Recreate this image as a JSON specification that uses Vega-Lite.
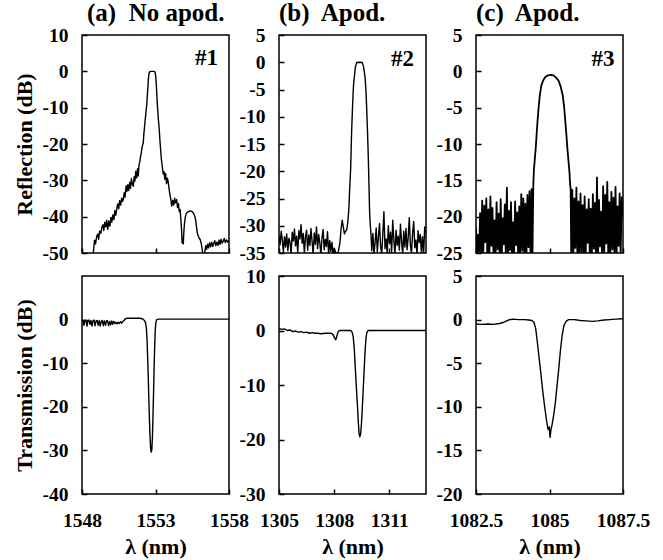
{
  "$schema": "https://vega.github.io/schema/vega-lite/v6.json",
  "padding": {"left": 12, "top": 0, "right": 5, "bottom": 0},
  "background": "white",
  "config": {
    "font": "Liberation Serif",
    "view": {"stroke": "black", "strokeWidth": 1.5},
    "axis": {
      "grid": false, "domain": false, "offset": -5,
      "tickColor": "black", "tickSize": 5, "tickWidth": 1.5,
      "labelFont": "Liberation Serif", "labelFontWeight": "bold", "labelFontSize": 19.5, "labelColor": "black",
      "labelOverlap": false, "labelFlush": false, "labelBound": false,
      "titleFont": "Liberation Serif", "titleFontWeight": "bold", "titleFontSize": 22, "titleColor": "black"
    },
    "axisY": {"labelPadding": 14, "titlePadding": 6},
    "axisX": {"labelPadding": 17, "titlePadding": 7},
    "title": {"font": "Liberation Serif", "fontWeight": "bold", "fontSize": 25, "anchor": "start", "frame": "group", "color": "black", "offset": -1}
  },
  "datasets": {
    "ra": [
      {"wl":1548.60,"db":-52},{"wl":1548.77,"db":-50},{"wl":1548.85,"db":-46.5},{"wl":1548.92,"db":-47.5},{"wl":1549.00,"db":-45.4},{"wl":1549.07,"db":-44.8},{"wl":1549.13,"db":-46.2},{"wl":1549.20,"db":-44.0},{"wl":1549.28,"db":-44.6},{"wl":1549.35,"db":-43.0},{"wl":1549.42,"db":-42.2},{"wl":1549.48,"db":-43.8},{"wl":1549.55,"db":-41.5},{"wl":1549.62,"db":-42.8},{"wl":1549.68,"db":-41.0},{"wl":1549.75,"db":-43.5},{"wl":1549.82,"db":-41.2},{"wl":1549.90,"db":-42.6},{"wl":1549.97,"db":-40.2},{"wl":1550.03,"db":-41.5},{"wl":1550.10,"db":-39.5},{"wl":1550.17,"db":-40.8},{"wl":1550.23,"db":-38.3},{"wl":1550.30,"db":-39.6},{"wl":1550.36,"db":-38.0},{"wl":1550.43,"db":-36.5},{"wl":1550.50,"db":-37.8},{"wl":1550.56,"db":-35.6},{"wl":1550.63,"db":-36.8},{"wl":1550.70,"db":-34.9},{"wl":1550.76,"db":-35.8},{"wl":1550.81,"db":-35.3},{"wl":1550.87,"db":-33.4},{"wl":1550.93,"db":-34.6},{"wl":1551.00,"db":-31.5},{"wl":1551.06,"db":-33.0},{"wl":1551.12,"db":-31.2},{"wl":1551.18,"db":-32.8},{"wl":1551.24,"db":-30.6},{"wl":1551.30,"db":-32.2},{"wl":1551.36,"db":-29.5},{"wl":1551.42,"db":-31.0},{"wl":1551.49,"db":-31.6},{"wl":1551.55,"db":-29.0},{"wl":1551.60,"db":-30.2},{"wl":1551.66,"db":-27.5},{"wl":1551.72,"db":-29.3},{"wl":1551.78,"db":-26.8},{"wl":1551.83,"db":-28.8},{"wl":1551.88,"db":-25.5},{"wl":1551.93,"db":-25.1},{"wl":1551.98,"db":-23.5},{"wl":1552.03,"db":-22.5},{"wl":1552.08,"db":-21.0},{"wl":1552.13,"db":-20.2},{"wl":1552.17,"db":-19.6},{"wl":1552.21,"db":-17.0},{"wl":1552.25,"db":-15.5},{"wl":1552.29,"db":-13.6},{"wl":1552.33,"db":-12.2},{"wl":1552.37,"db":-10.5},{"wl":1552.40,"db":-9.4},{"wl":1552.44,"db":-7.0},{"wl":1552.48,"db":-4.5},{"wl":1552.52,"db":-2.0},{"wl":1552.56,"db":-0.6},{"wl":1552.60,"db":-0.1},{"wl":1552.70,"db":0},{"wl":1552.80,"db":0},{"wl":1552.90,"db":0},{"wl":1552.97,"db":-0.2},{"wl":1553.02,"db":-1.5},{"wl":1553.06,"db":-4.0},{"wl":1553.10,"db":-7.2},{"wl":1553.13,"db":-9.5},{"wl":1553.16,"db":-11.0},{"wl":1553.20,"db":-13.5},{"wl":1553.24,"db":-15.2},{"wl":1553.27,"db":-17.0},{"wl":1553.31,"db":-19.5},{"wl":1553.35,"db":-21.5},{"wl":1553.39,"db":-23.8},{"wl":1553.43,"db":-25.1},{"wl":1553.48,"db":-26.9},{"wl":1553.53,"db":-28.3},{"wl":1553.58,"db":-27.6},{"wl":1553.63,"db":-29.7},{"wl":1553.69,"db":-28.1},{"wl":1553.75,"db":-30.9},{"wl":1553.81,"db":-29.4},{"wl":1553.87,"db":-30.6},{"wl":1553.93,"db":-32.5},{"wl":1553.98,"db":-34.0},{"wl":1554.04,"db":-35.2},{"wl":1554.10,"db":-37.1},{"wl":1554.17,"db":-35.5},{"wl":1554.24,"db":-36.8},{"wl":1554.30,"db":-34.9},{"wl":1554.37,"db":-36.2},{"wl":1554.44,"db":-35.3},{"wl":1554.50,"db":-37.5},{"wl":1554.56,"db":-36.4},{"wl":1554.62,"db":-38.6},{"wl":1554.67,"db":-38.0},{"wl":1554.72,"db":-40.5},{"wl":1554.77,"db":-43.5},{"wl":1554.81,"db":-47.2},{"wl":1554.85,"db":-46.0},{"wl":1554.89,"db":-47.5},{"wl":1554.93,"db":-44.0},{"wl":1554.97,"db":-42.0},{"wl":1555.02,"db":-40.3},{"wl":1555.08,"db":-39.3},{"wl":1555.15,"db":-38.8},{"wl":1555.25,"db":-38.6},{"wl":1555.35,"db":-38.4},{"wl":1555.46,"db":-38.5},{"wl":1555.55,"db":-38.9},{"wl":1555.63,"db":-39.4},{"wl":1555.70,"db":-40.2},{"wl":1555.75,"db":-41.5},{"wl":1555.80,"db":-43.2},{"wl":1555.86,"db":-44.8},{"wl":1555.92,"db":-45.4},{"wl":1555.98,"db":-46.0},{"wl":1556.04,"db":-46.3},{"wl":1556.10,"db":-47.2},{"wl":1556.16,"db":-48.5},{"wl":1556.22,"db":-50.5},{"wl":1556.30,"db":-51},{"wl":1556.36,"db":-49.5},{"wl":1556.42,"db":-48.0},{"wl":1556.48,"db":-49.0},{"wl":1556.55,"db":-47.6},{"wl":1556.61,"db":-48.6},{"wl":1556.68,"db":-47.2},{"wl":1556.75,"db":-48.3},{"wl":1556.82,"db":-47.0},{"wl":1556.89,"db":-48.2},{"wl":1556.96,"db":-47.4},{"wl":1557.03,"db":-46.6},{"wl":1557.10,"db":-48.0},{"wl":1557.17,"db":-47.0},{"wl":1557.25,"db":-47.9},{"wl":1557.32,"db":-46.5},{"wl":1557.39,"db":-47.6},{"wl":1557.46,"db":-46.2},{"wl":1557.53,"db":-47.3},{"wl":1557.60,"db":-46.8},{"wl":1557.68,"db":-46.0},{"wl":1557.75,"db":-47.1},{"wl":1557.83,"db":-46.4},{"wl":1557.91,"db":-47.0},{"wl":1558.00,"db":-46.5}
    ],
    "rb": [
      {"wl":1305.00,"db":-31.8},{"wl":1305.06,"db":-33.5},{"wl":1305.12,"db":-31.0},{"wl":1305.18,"db":-32.6},{"wl":1305.24,"db":-34.8},{"wl":1305.30,"db":-32.0},{"wl":1305.36,"db":-33.9},{"wl":1305.42,"db":-31.5},{"wl":1305.48,"db":-34.6},{"wl":1305.54,"db":-32.3},{"wl":1305.60,"db":-33.0},{"wl":1305.66,"db":-35.2},{"wl":1305.72,"db":-31.2},{"wl":1305.78,"db":-32.8},{"wl":1305.84,"db":-30.6},{"wl":1305.90,"db":-33.7},{"wl":1305.96,"db":-31.9},{"wl":1306.02,"db":-34.9},{"wl":1306.08,"db":-30.9},{"wl":1306.14,"db":-32.4},{"wl":1306.20,"db":-29.8},{"wl":1306.26,"db":-33.2},{"wl":1306.32,"db":-31.4},{"wl":1306.38,"db":-35.1},{"wl":1306.44,"db":-32.1},{"wl":1306.50,"db":-30.8},{"wl":1306.56,"db":-34.5},{"wl":1306.62,"db":-31.7},{"wl":1306.68,"db":-33.6},{"wl":1306.74,"db":-30.5},{"wl":1306.80,"db":-32.9},{"wl":1306.86,"db":-35.3},{"wl":1306.92,"db":-31.3},{"wl":1306.98,"db":-33.4},{"wl":1307.04,"db":-30.2},{"wl":1307.10,"db":-34.2},{"wl":1307.16,"db":-31.6},{"wl":1307.22,"db":-33.1},{"wl":1307.28,"db":-35.4},{"wl":1307.34,"db":-32.2},{"wl":1307.40,"db":-30.7},{"wl":1307.46,"db":-34.4},{"wl":1307.52,"db":-32.5},{"wl":1307.58,"db":-33.8},{"wl":1307.64,"db":-31.1},{"wl":1307.70,"db":-35.2},{"wl":1307.76,"db":-32.7},{"wl":1307.82,"db":-34.7},{"wl":1307.88,"db":-33.0},{"wl":1307.94,"db":-35.3},{"wl":1308.00,"db":-34.1},{"wl":1308.08,"db":-34.9},{"wl":1308.16,"db":-35.2},{"wl":1308.24,"db":-34.6},{"wl":1308.32,"db":-33.0},{"wl":1308.38,"db":-30.5},{"wl":1308.44,"db":-29.0},{"wl":1308.50,"db":-30.2},{"wl":1308.56,"db":-31.5},{"wl":1308.62,"db":-31.0},{"wl":1308.68,"db":-30.8},{"wl":1308.74,"db":-29.5},{"wl":1308.80,"db":-27.0},{"wl":1308.85,"db":-23.0},{"wl":1308.90,"db":-19.5},{"wl":1308.95,"db":-13.0},{"wl":1309.00,"db":-8.3},{"wl":1309.05,"db":-4.5},{"wl":1309.10,"db":-2.7},{"wl":1309.16,"db":-0.8},{"wl":1309.23,"db":-0.05},{"wl":1309.38,"db":0},{"wl":1309.53,"db":-0.05},{"wl":1309.60,"db":-0.8},{"wl":1309.68,"db":-2.7},{"wl":1309.73,"db":-5.0},{"wl":1309.77,"db":-8.3},{"wl":1309.82,"db":-13.0},{"wl":1309.86,"db":-17.5},{"wl":1309.90,"db":-23.0},{"wl":1309.93,"db":-27.3},{"wl":1309.96,"db":-29.5},{"wl":1310.00,"db":-31.2},
      {"wl":1310.05,"db":-34.6},{"wl":1310.11,"db":-31.4},{"wl":1310.17,"db":-35.2},{"wl":1310.23,"db":-33.0},{"wl":1310.29,"db":-30.4},{"wl":1310.35,"db":-34.8},{"wl":1310.41,"db":-32.1},{"wl":1310.47,"db":-29.6},{"wl":1310.53,"db":-33.8},{"wl":1310.59,"db":-35.3},{"wl":1310.65,"db":-31.5},{"wl":1310.71,"db":-27.4},{"wl":1310.77,"db":-34.2},{"wl":1310.83,"db":-32.4},{"wl":1310.89,"db":-35.1},{"wl":1310.95,"db":-30.0},{"wl":1311.01,"db":-33.3},{"wl":1311.07,"db":-31.2},{"wl":1311.13,"db":-34.9},{"wl":1311.19,"db":-29.0},{"wl":1311.25,"db":-32.7},{"wl":1311.31,"db":-35.2},{"wl":1311.37,"db":-30.8},{"wl":1311.43,"db":-33.6},{"wl":1311.49,"db":-31.9},{"wl":1311.55,"db":-34.5},{"wl":1311.61,"db":-29.7},{"wl":1311.67,"db":-32.8},{"wl":1311.73,"db":-35.3},{"wl":1311.79,"db":-31.0},{"wl":1311.85,"db":-33.9},{"wl":1311.91,"db":-30.5},{"wl":1311.97,"db":-34.4},{"wl":1312.03,"db":-32.2},{"wl":1312.09,"db":-28.5},{"wl":1312.15,"db":-33.5},{"wl":1312.21,"db":-35.1},{"wl":1312.27,"db":-31.4},{"wl":1312.33,"db":-29.2},{"wl":1312.39,"db":-34.0},{"wl":1312.45,"db":-32.6},{"wl":1312.51,"db":-35.2},{"wl":1312.57,"db":-30.9},{"wl":1312.63,"db":-33.1},{"wl":1312.69,"db":-31.6},{"wl":1312.75,"db":-34.8},{"wl":1312.81,"db":-32.0},{"wl":1312.87,"db":-35.3},{"wl":1312.93,"db":-30.2},{"wl":1313.00,"db":-31.5}
    ],
    "rc": [
      {"wl":1082.500,"db":-21.5},{"wl":1082.535,"db":-25.5},{"wl":1082.570,"db":-22.5},{"wl":1082.605,"db":-24.8},{"wl":1082.640,"db":-19.5},{"wl":1082.675,"db":-25.5},{"wl":1082.710,"db":-17.8},{"wl":1082.745,"db":-25.5},{"wl":1082.780,"db":-18.5},{"wl":1082.815,"db":-23.5},{"wl":1082.850,"db":-17.5},{"wl":1082.885,"db":-25.5},{"wl":1082.920,"db":-19.0},{"wl":1082.955,"db":-25.5},{"wl":1082.990,"db":-17.2},{"wl":1083.025,"db":-24.0},{"wl":1083.060,"db":-18.8},{"wl":1083.095,"db":-25.5},{"wl":1083.130,"db":-20.5},{"wl":1083.165,"db":-25.5},{"wl":1083.200,"db":-18.0},{"wl":1083.235,"db":-24.5},{"wl":1083.270,"db":-19.6},{"wl":1083.305,"db":-25.5},{"wl":1083.340,"db":-17.6},{"wl":1083.375,"db":-25.5},{"wl":1083.410,"db":-20.2},{"wl":1083.445,"db":-23.8},{"wl":1083.480,"db":-18.3},{"wl":1083.515,"db":-25.5},{"wl":1083.550,"db":-16.0},{"wl":1083.585,"db":-25.5},{"wl":1083.620,"db":-19.2},{"wl":1083.655,"db":-24.6},{"wl":1083.690,"db":-18.0},{"wl":1083.725,"db":-25.5},{"wl":1083.760,"db":-20.8},{"wl":1083.795,"db":-25.5},{"wl":1083.830,"db":-17.9},{"wl":1083.865,"db":-23.9},{"wl":1083.900,"db":-19.4},{"wl":1083.935,"db":-25.5},{"wl":1083.970,"db":-18.6},{"wl":1084.005,"db":-25.5},{"wl":1084.040,"db":-16.9},{"wl":1084.075,"db":-24.7},{"wl":1084.110,"db":-17.5},{"wl":1084.145,"db":-25.5},{"wl":1084.180,"db":-18.2},{"wl":1084.215,"db":-25.5},{"wl":1084.250,"db":-17.0},{"wl":1084.285,"db":-24.2},{"wl":1084.320,"db":-16.5},{"wl":1084.355,"db":-25.5},{"wl":1084.390,"db":-16.2},{"wl":1084.420,"db":-25.5},
      {"wl":1084.450,"db":-15.5},{"wl":1084.470,"db":-13.5},{"wl":1084.490,"db":-12.6},{"wl":1084.510,"db":-11.5},{"wl":1084.530,"db":-10.7},{"wl":1084.560,"db":-8.8},{"wl":1084.590,"db":-7.0},{"wl":1084.630,"db":-5.0},{"wl":1084.670,"db":-3.3},{"wl":1084.720,"db":-2.0},{"wl":1084.780,"db":-1.3},{"wl":1084.850,"db":-0.8},{"wl":1084.950,"db":-0.55},{"wl":1085.050,"db":-0.5},{"wl":1085.150,"db":-0.6},{"wl":1085.230,"db":-0.9},{"wl":1085.310,"db":-1.3},{"wl":1085.380,"db":-2.1},{"wl":1085.450,"db":-3.3},{"wl":1085.500,"db":-5.0},{"wl":1085.540,"db":-7.0},{"wl":1085.580,"db":-9.0},{"wl":1085.610,"db":-10.7},{"wl":1085.645,"db":-12.3},{"wl":1085.680,"db":-13.9},{"wl":1085.700,"db":-15.5},{"wl":1085.720,"db":-16.2},
      {"wl":1085.740,"db":-25.5},{"wl":1085.775,"db":-16.3},{"wl":1085.810,"db":-25.5},{"wl":1085.845,"db":-17.5},{"wl":1085.880,"db":-24.3},{"wl":1085.915,"db":-16.0},{"wl":1085.950,"db":-25.5},{"wl":1085.985,"db":-17.9},{"wl":1086.020,"db":-25.5},{"wl":1086.055,"db":-16.8},{"wl":1086.090,"db":-24.8},{"wl":1086.125,"db":-18.4},{"wl":1086.160,"db":-25.5},{"wl":1086.195,"db":-17.2},{"wl":1086.230,"db":-25.5},{"wl":1086.265,"db":-19.0},{"wl":1086.300,"db":-23.6},{"wl":1086.335,"db":-17.6},{"wl":1086.370,"db":-25.5},{"wl":1086.405,"db":-18.9},{"wl":1086.440,"db":-25.5},{"wl":1086.475,"db":-16.9},{"wl":1086.510,"db":-24.4},{"wl":1086.545,"db":-18.1},{"wl":1086.580,"db":-25.5},{"wl":1086.615,"db":-14.6},{"wl":1086.650,"db":-25.5},{"wl":1086.685,"db":-17.7},{"wl":1086.720,"db":-24.1},{"wl":1086.755,"db":-19.3},{"wl":1086.790,"db":-25.5},{"wl":1086.825,"db":-15.8},{"wl":1086.860,"db":-25.5},{"wl":1086.895,"db":-17.0},{"wl":1086.930,"db":-23.7},{"wl":1086.965,"db":-15.2},{"wl":1087.000,"db":-25.5},{"wl":1087.035,"db":-18.0},{"wl":1087.070,"db":-25.5},{"wl":1087.105,"db":-16.6},{"wl":1087.140,"db":-24.5},{"wl":1087.175,"db":-17.4},{"wl":1087.210,"db":-25.5},{"wl":1087.245,"db":-15.9},{"wl":1087.280,"db":-25.5},{"wl":1087.315,"db":-18.6},{"wl":1087.350,"db":-24.0},{"wl":1087.385,"db":-16.8},{"wl":1087.420,"db":-25.5},{"wl":1087.455,"db":-17.3},{"wl":1087.500,"db":-20.0}
    ],
    "ta": [
      {"wl":1548.00,"db":0.0},{"wl":1548.07,"db":-0.2},{"wl":1548.13,"db":-1.3},{"wl":1548.20,"db":-0.1},{"wl":1548.27,"db":-0.3},{"wl":1548.34,"db":-1.5},{"wl":1548.40,"db":-0.2},{"wl":1548.47,"db":-0.1},{"wl":1548.54,"db":-1.1},{"wl":1548.61,"db":-0.2},{"wl":1548.68,"db":-1.5},{"wl":1548.75,"db":-0.3},{"wl":1548.82,"db":-0.1},{"wl":1548.89,"db":-1.4},{"wl":1548.96,"db":-0.3},{"wl":1549.03,"db":-0.2},{"wl":1549.10,"db":-1.3},{"wl":1549.17,"db":-0.2},{"wl":1549.24,"db":-1.5},{"wl":1549.31,"db":-0.4},{"wl":1549.38,"db":-0.2},{"wl":1549.45,"db":-1.4},{"wl":1549.52,"db":-0.3},{"wl":1549.60,"db":-1.3},{"wl":1549.67,"db":-0.2},{"wl":1549.74,"db":-0.3},{"wl":1549.81,"db":-1.4},{"wl":1549.88,"db":-0.4},{"wl":1549.95,"db":-1.2},{"wl":1550.02,"db":-0.3},{"wl":1550.09,"db":-1.1},{"wl":1550.16,"db":-0.4},{"wl":1550.23,"db":-0.9},{"wl":1550.30,"db":-0.6},{"wl":1550.38,"db":-1.0},{"wl":1550.46,"db":-0.6},{"wl":1550.54,"db":-0.9},{"wl":1550.62,"db":-0.5},{"wl":1550.70,"db":-0.8},{"wl":1550.78,"db":-0.4},{"wl":1550.86,"db":-0.2},{"wl":1550.95,"db":0.2},{"wl":1551.10,"db":0.3},{"wl":1551.30,"db":0.3},{"wl":1551.60,"db":0.3},{"wl":1551.90,"db":0.3},{"wl":1552.10,"db":0.2},{"wl":1552.25,"db":-0.2},{"wl":1552.33,"db":-0.8},{"wl":1552.38,"db":-2.0},{"wl":1552.43,"db":-5.0},{"wl":1552.47,"db":-9.0},{"wl":1552.51,"db":-13.5},{"wl":1552.55,"db":-18.5},{"wl":1552.59,"db":-23.0},{"wl":1552.63,"db":-27.0},{"wl":1552.67,"db":-29.5},{"wl":1552.71,"db":-30.4},{"wl":1552.75,"db":-29.8},{"wl":1552.79,"db":-27.0},{"wl":1552.83,"db":-22.0},{"wl":1552.87,"db":-16.5},{"wl":1552.91,"db":-10.5},{"wl":1552.95,"db":-5.5},{"wl":1552.99,"db":-2.0},{"wl":1553.03,"db":-0.6},{"wl":1553.08,"db":0.0},{"wl":1553.20,"db":0.1},{"wl":1554.00,"db":0.1},{"wl":1556.00,"db":0.1},{"wl":1558.00,"db":0.1}
    ],
    "tb": [
      {"wl":1305.00,"db":0.4},{"wl":1305.15,"db":0.2},{"wl":1305.30,"db":0.3},{"wl":1305.45,"db":0.0},{"wl":1305.60,"db":0.1},{"wl":1305.75,"db":-0.2},{"wl":1305.90,"db":-0.1},{"wl":1306.05,"db":-0.3},{"wl":1306.20,"db":-0.2},{"wl":1306.35,"db":-0.4},{"wl":1306.50,"db":-0.3},{"wl":1306.65,"db":-0.5},{"wl":1306.80,"db":-0.4},{"wl":1306.95,"db":-0.5},{"wl":1307.10,"db":-0.5},{"wl":1307.30,"db":-0.6},{"wl":1307.50,"db":-0.5},{"wl":1307.70,"db":-0.5},{"wl":1307.85,"db":-0.5},{"wl":1307.95,"db":-0.8},{"wl":1308.03,"db":-1.4},{"wl":1308.09,"db":-1.7},{"wl":1308.15,"db":-1.0},{"wl":1308.22,"db":-0.2},{"wl":1308.30,"db":0.0},{"wl":1308.60,"db":0.0},{"wl":1308.90,"db":0.0},{"wl":1308.98,"db":-0.3},{"wl":1309.04,"db":-1.2},{"wl":1309.10,"db":-3.5},{"wl":1309.16,"db":-7.4},{"wl":1309.22,"db":-11.0},{"wl":1309.27,"db":-13.8},{"wl":1309.32,"db":-17.0},{"wl":1309.36,"db":-19.0},{"wl":1309.40,"db":-19.5},{"wl":1309.44,"db":-19.0},{"wl":1309.48,"db":-17.5},{"wl":1309.53,"db":-14.5},{"wl":1309.58,"db":-11.0},{"wl":1309.63,"db":-7.5},{"wl":1309.68,"db":-4.0},{"wl":1309.73,"db":-1.5},{"wl":1309.78,"db":-0.4},{"wl":1309.85,"db":0.0},{"wl":1310.50,"db":0.0},{"wl":1311.50,"db":0.0},{"wl":1313.00,"db":0.0}
    ],
    "tc": [
      {"wl":1082.50,"db":-0.5},{"wl":1082.70,"db":-0.55},{"wl":1082.90,"db":-0.5},{"wl":1083.10,"db":-0.55},{"wl":1083.30,"db":-0.45},{"wl":1083.45,"db":-0.3},{"wl":1083.60,"db":-0.05},{"wl":1083.75,"db":0.05},{"wl":1083.95,"db":0.0},{"wl":1084.15,"db":0.0},{"wl":1084.30,"db":-0.05},{"wl":1084.40,"db":-0.1},{"wl":1084.47,"db":-0.3},{"wl":1084.53,"db":-1.0},{"wl":1084.58,"db":-2.4},{"wl":1084.64,"db":-4.2},{"wl":1084.70,"db":-6.0},{"wl":1084.77,"db":-8.2},{"wl":1084.84,"db":-10.1},{"wl":1084.90,"db":-11.6},{"wl":1084.95,"db":-12.6},{"wl":1084.99,"db":-12.3},{"wl":1085.02,"db":-13.5},{"wl":1085.05,"db":-12.6},{"wl":1085.09,"db":-12.0},{"wl":1085.14,"db":-11.0},{"wl":1085.19,"db":-9.8},{"wl":1085.25,"db":-7.8},{"wl":1085.31,"db":-5.8},{"wl":1085.37,"db":-3.6},{"wl":1085.43,"db":-1.8},{"wl":1085.49,"db":-0.7},{"wl":1085.56,"db":-0.2},{"wl":1085.65,"db":0.0},{"wl":1085.85,"db":0.0},{"wl":1086.05,"db":-0.1},{"wl":1086.25,"db":-0.15},{"wl":1086.45,"db":-0.2},{"wl":1086.65,"db":-0.15},{"wl":1086.85,"db":-0.05},{"wl":1087.05,"db":0.0},{"wl":1087.25,"db":0.05},{"wl":1087.50,"db":0.1}
    ]
  },
  "columns": 3,
  "spacing": {"row": 23, "column": 50},
  "bounds": "flush",
  "concat": [
    {
      "width": 147, "height": 218,
      "title": {"text": "(a)\u00a0 No apod.", "dx": 5},
      "resolve": {"scale": {"x": "independent", "y": "independent"}},
      "layer": [
        {"data": {"name": "ra"}, "mark": {"type": "line", "clip": true, "color": "black", "strokeWidth": 1.4, "strokeJoin": "round"},
         "encoding": {
           "x": {"field": "wl", "type": "quantitative", "scale": {"domain": [1548, 1558], "nice": false, "zero": false}, "axis": {"values": [1548, 1553, 1558], "labels": false, "title": null}},
           "y": {"field": "db", "type": "quantitative", "scale": {"domain": [-50, 10], "nice": false, "zero": false}, "axis": {"values": [10, 0, -10, -20, -30, -40, -50], "labelOverlap": false, "labelExpr": "'' + datum.value", "title": "Reflection (dB)"}}
         }},
        {"data": {"values": [{"t": "#1"}]}, "mark": {"type": "text", "align": "right", "baseline": "alphabetic", "font": "Liberation Serif", "fontWeight": "bold", "fontSize": 23, "color": "black"},
         "encoding": {"text": {"field": "t"},
           "x": {"datum": 1557.25, "type": "quantitative", "scale": {"domain": [1548, 1558], "nice": false, "zero": false}, "axis": null},
           "y": {"datum": 1.7, "type": "quantitative", "scale": {"domain": [-50, 10], "nice": false, "zero": false}, "axis": null}}}
      ]
    },
    {
      "width": 147, "height": 218,
      "title": {"text": "(b)\u00a0 Apod."},
      "resolve": {"scale": {"x": "independent", "y": "independent"}},
      "layer": [
        {"data": {"name": "rb"}, "mark": {"type": "line", "clip": true, "color": "black", "strokeWidth": 1.4, "strokeJoin": "round"},
         "encoding": {
           "x": {"field": "wl", "type": "quantitative", "scale": {"domain": [1305, 1313], "nice": false, "zero": false}, "axis": {"values": [1305, 1308, 1311], "labels": false, "title": null}},
           "y": {"field": "db", "type": "quantitative", "scale": {"domain": [-35, 5], "nice": false, "zero": false}, "axis": {"values": [5, 0, -5, -10, -15, -20, -25, -30, -35], "labelOverlap": false, "labelExpr": "'' + datum.value", "title": null}}
         }},
        {"data": {"values": [{"t": "#2"}]}, "mark": {"type": "text", "align": "right", "baseline": "alphabetic", "font": "Liberation Serif", "fontWeight": "bold", "fontSize": 23, "color": "black"},
         "encoding": {"text": {"field": "t"},
           "x": {"datum": 1312.35, "type": "quantitative", "scale": {"domain": [1305, 1313], "nice": false, "zero": false}, "axis": null},
           "y": {"datum": -0.7, "type": "quantitative", "scale": {"domain": [-35, 5], "nice": false, "zero": false}, "axis": null}}}
      ]
    },
    {
      "width": 147, "height": 218,
      "title": {"text": "(c)\u00a0 Apod."},
      "resolve": {"scale": {"x": "independent", "y": "independent"}},
      "layer": [
        {"data": {"name": "rc"}, "mark": {"type": "line", "clip": true, "color": "black", "strokeWidth": 1.8, "strokeJoin": "round"},
         "encoding": {
           "x": {"field": "wl", "type": "quantitative", "scale": {"domain": [1082.5, 1087.5], "nice": false, "zero": false}, "axis": {"values": [1082.5, 1085, 1087.5], "labels": false, "title": null}},
           "y": {"field": "db", "type": "quantitative", "scale": {"domain": [-25, 5], "nice": false, "zero": false}, "axis": {"values": [5, 0, -5, -10, -15, -20, -25], "labelOverlap": false, "labelExpr": "'' + datum.value", "title": null}}
         }},
        {"data": {"values": [{"t": "#3"}]}, "mark": {"type": "text", "align": "right", "baseline": "alphabetic", "font": "Liberation Serif", "fontWeight": "bold", "fontSize": 23, "color": "black"},
         "encoding": {"text": {"field": "t"},
           "x": {"datum": 1087.21, "type": "quantitative", "scale": {"domain": [1082.5, 1087.5], "nice": false, "zero": false}, "axis": null},
           "y": {"datum": 0.8, "type": "quantitative", "scale": {"domain": [-25, 5], "nice": false, "zero": false}, "axis": null}}}
      ]
    },
    {
      "width": 147, "height": 218,
      "data": {"name": "ta"},
      "mark": {"type": "line", "clip": true, "color": "black", "strokeWidth": 1.4, "strokeJoin": "round"},
      "encoding": {
        "x": {"field": "wl", "type": "quantitative", "scale": {"domain": [1548, 1558], "nice": false, "zero": false}, "axis": {"values": [1548, 1553, 1558], "labelExpr": "'' + datum.value", "title": "λ (nm)"}},
        "y": {"field": "db", "type": "quantitative", "scale": {"domain": [-40, 10], "nice": false, "zero": false}, "axis": {"values": [0, -10, -20, -30, -40], "labelExpr": "'' + datum.value", "title": "Transmission (dB)"}}
      }
    },
    {
      "width": 147, "height": 218,
      "data": {"name": "tb"},
      "mark": {"type": "line", "clip": true, "color": "black", "strokeWidth": 1.4, "strokeJoin": "round"},
      "encoding": {
        "x": {"field": "wl", "type": "quantitative", "scale": {"domain": [1305, 1313], "nice": false, "zero": false}, "axis": {"values": [1305, 1308, 1311], "labelExpr": "'' + datum.value", "title": "λ (nm)"}},
        "y": {"field": "db", "type": "quantitative", "scale": {"domain": [-30, 10], "nice": false, "zero": false}, "axis": {"values": [10, 0, -10, -20, -30], "labelExpr": "'' + datum.value", "title": null}}
      }
    },
    {
      "width": 147, "height": 218,
      "data": {"name": "tc"},
      "mark": {"type": "line", "clip": true, "color": "black", "strokeWidth": 1.4, "strokeJoin": "round"},
      "encoding": {
        "x": {"field": "wl", "type": "quantitative", "scale": {"domain": [1082.5, 1087.5], "nice": false, "zero": false}, "axis": {"values": [1082.5, 1085, 1087.5], "labelExpr": "'' + datum.value", "title": "λ (nm)"}},
        "y": {"field": "db", "type": "quantitative", "scale": {"domain": [-20, 5], "nice": false, "zero": false}, "axis": {"values": [5, 0, -5, -10, -15, -20], "labelExpr": "'' + datum.value", "title": null}}
      }
    }
  ]
}
